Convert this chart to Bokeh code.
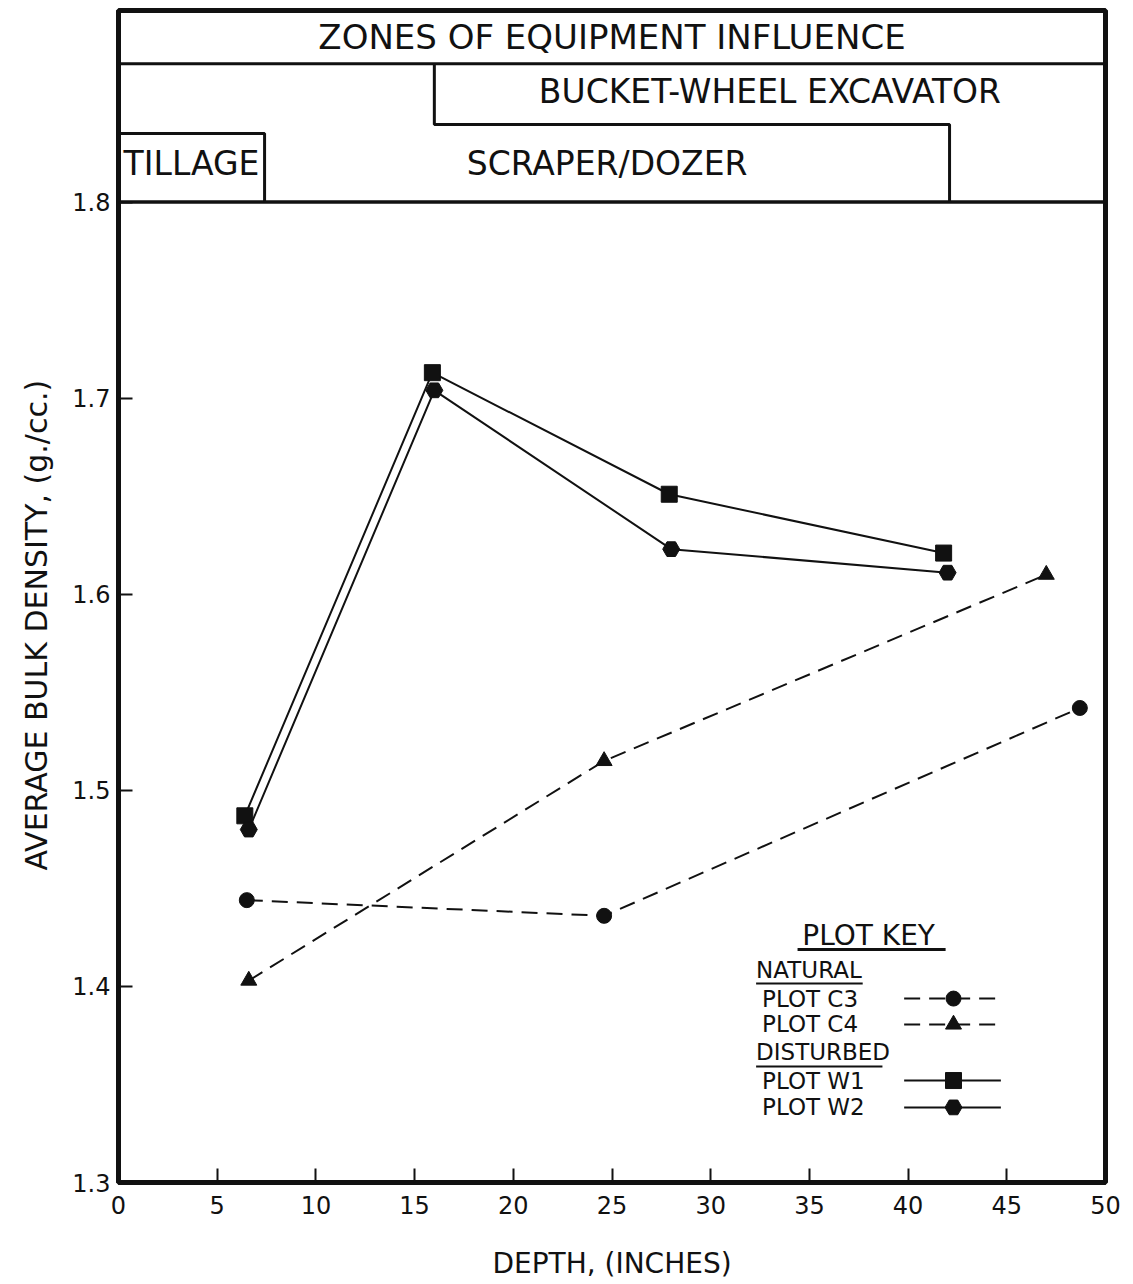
from bokeh.plotting import figure
from bokeh.models import Range1d, FixedTicker, Label, Title
from bokeh.embed import file_html
from bokeh.resources import INLINE

# Average bulk density (g/cc) against depth (inches) for each plot
c3_depth = [6.5, 24.6, 48.7]
c3_density = [1.444, 1.436, 1.542]
c4_depth = [6.6, 24.6, 47.0]
c4_density = [1.403, 1.515, 1.610]
w1_depth = [6.4, 15.9, 27.9, 41.8]
w1_density = [1.487, 1.713, 1.651, 1.621]
w2_depth = [6.6, 16.0, 28.0, 42.0]
w2_density = [1.480, 1.704, 1.623, 1.611]

x_ticks = [0, 5, 10, 15, 20, 25, 30, 35, 40, 45, 50]
y_ticks = [1.3, 1.4, 1.5, 1.6, 1.7, 1.8]

# Depth ranges reached by each kind of equipment
zone_names = ["TILLAGE", "SCRAPER/DOZER", "BUCKET-WHEEL EXCAVATOR"]
zone_start = [0.0, 7.4, 16.0]
zone_end = [7.4, 42.1, 50.0]

FONT = "DejaVu Sans"
INK = "#111111"

X0, X1 = 0, 50
Y0, Y1 = 1.3, 1.8977
BAND_BASE = 1.8          # bottom of the zone header band
ROW_LOW_TOP = 1.8395     # top of the scraper/dozer row
TILL_TOP = 1.835         # top of the tillage box
ROW_MID_TOP = 1.8706     # top of the bucket-wheel row

p = figure(width=1133, height=1284, output_backend="svg", toolbar_location=None,
           x_range=Range1d(X0, X1), y_range=Range1d(Y0, Y1),
           min_border_left=117, min_border_right=28, min_border_top=10,
           min_border_bottom=102, background_fill_color="white",
           border_fill_color="white")
p.grid.visible = False
p.outline_line_color = INK
p.outline_line_width = 5

for ax in (p.xaxis[0], p.yaxis[0]):
    ax.axis_line_width = 5
    ax.axis_line_color = INK
    ax.major_tick_in = 14
    ax.major_tick_out = 0
    ax.major_tick_line_width = 2
    ax.major_tick_line_color = INK
    ax.minor_tick_line_color = None
    ax.major_label_text_font = FONT
    ax.major_label_text_font_size = "24px"
    ax.major_label_text_color = INK

p.xaxis.ticker = FixedTicker(ticks=x_ticks)
p.yaxis.ticker = FixedTicker(ticks=y_ticks)
p.xaxis.major_label_standoff = 13
p.yaxis.major_label_standoff = 8
p.xaxis.axis_label = "DEPTH, (INCHES)"
p.xaxis.axis_label_text_font = FONT
p.xaxis.axis_label_text_font_style = "normal"
p.xaxis.axis_label_text_font_size = "28px"
p.xaxis.axis_label_text_color = INK
p.xaxis.axis_label_standoff = 30

# Vertical axis title, reading upward from a little above the bottom axis
p.add_layout(Title(text="AVERAGE BULK DENSITY, (g./cc.)", align="left", offset=312,
                   standoff=32, text_font=FONT, text_font_size="30px",
                   text_font_style="normal", text_color=INK), "left")

# Zone header band
p.line([X0, X1], [BAND_BASE, BAND_BASE], line_color=INK, line_width=3.5)
p.line([X0, X1], [ROW_MID_TOP, ROW_MID_TOP], line_color=INK, line_width=3)
p.line([zone_start[2], zone_start[2], zone_end[1], zone_end[1]],
       [ROW_MID_TOP, ROW_LOW_TOP, ROW_LOW_TOP, BAND_BASE], line_color=INK, line_width=3)
p.line([zone_start[0], zone_end[0], zone_end[0]],
       [TILL_TOP, TILL_TOP, BAND_BASE], line_color=INK, line_width=3)

zone_text_y = [1.8195, 1.8195, 1.8565]
for name, a, b, ty in zip(zone_names, zone_start, zone_end, zone_text_y):
    p.add_layout(Label(x=(a + b) / 2, y=ty, text=name, text_align="center",
                       text_baseline="middle", text_font=FONT,
                       text_font_size="33px", text_color=INK))
p.add_layout(Label(x=(X0 + X1) / 2, y=1.8840, text="ZONES OF EQUIPMENT INFLUENCE",
                   text_align="center", text_baseline="middle", text_font=FONT,
                   text_font_size="34px", text_color=INK))

# Data series
DASH = "16 9"
p.line(c3_depth, c3_density, line_color=INK, line_width=2, line_dash=DASH)
p.scatter(c3_depth, c3_density, marker="circle", size=15, color=INK)
p.line(c4_depth, c4_density, line_color=INK, line_width=2, line_dash=DASH)
p.scatter(c4_depth, c4_density, marker="triangle", size=16, color=INK)
p.line(w1_depth, w1_density, line_color=INK, line_width=2)
p.scatter(w1_depth, w1_density, marker="square", size=16, color=INK)
p.line(w2_depth, w2_density, line_color=INK, line_width=2)
p.scatter(w2_depth, w2_density, marker="hex", size=17, color=INK)

# Plot key
KEY_TEXT_X = 32.6
KEY_LINE = (39.8, 44.7)
KEY_MARK = 42.3
key_rows = [
    ("PLOT C3", 1.3938, "16 9", "circle", 15),
    ("PLOT C4", 1.3806, "16 9", "triangle", 16),
    ("PLOT W1", 1.3520, "solid", "square", 16),
    ("PLOT W2", 1.3383, "solid", "hex", 17),
]
for label, ky, dash, marker, size in key_rows:
    p.add_layout(Label(x=KEY_TEXT_X, y=ky, text=label, text_align="left",
                       text_baseline="middle", text_font=FONT,
                       text_font_size="23px", text_color=INK))
    p.line(list(KEY_LINE), [ky, ky], line_color=INK, line_width=2, line_dash=dash)
    p.scatter([KEY_MARK], [ky], marker=marker, size=size, color=INK)

p.add_layout(Label(x=38.0, y=1.4262, text="PLOT KEY", text_align="center",
                   text_baseline="middle", text_font=FONT,
                   text_font_size="28px", text_color=INK))
p.line([34.4, 41.9], [1.4188, 1.4188], line_color=INK, line_width=3)
p.add_layout(Label(x=32.3, y=1.4086, text="NATURAL", text_align="left",
                   text_baseline="middle", text_font=FONT,
                   text_font_size="23px", text_color=INK))
p.line([32.3, 37.7], [1.4015, 1.4015], line_color=INK, line_width=2)
p.add_layout(Label(x=32.3, y=1.3663, text="DISTURBED", text_align="left",
                   text_baseline="middle", text_font=FONT,
                   text_font_size="23px", text_color=INK))
p.line([32.3, 38.7], [1.3592, 1.3592], line_color=INK, line_width=2)

open("out.html", "w").write(file_html(p, INLINE))
